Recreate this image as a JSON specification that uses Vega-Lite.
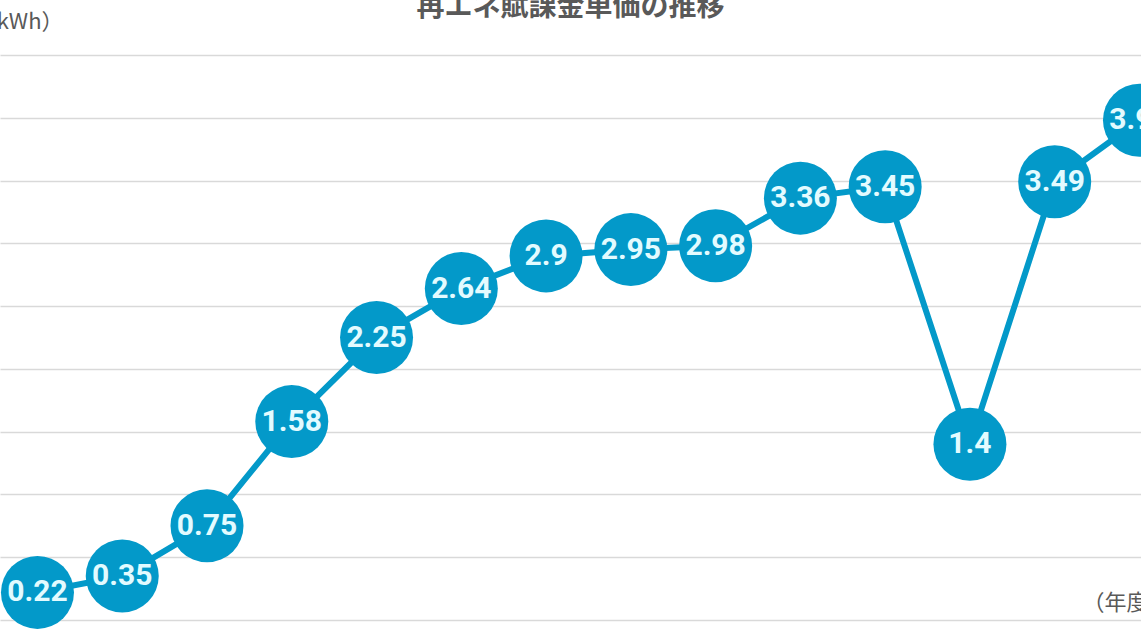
{
  "$schema": "https://vega.github.io/schema/vega-lite/v6.json",
  "autosize": {"type": "none"},
  "width": 1141,
  "height": 565,
  "padding": {"top": 55, "left": 0, "right": 0, "bottom": 14},
  "background": "white",
  "title": {
    "text": "再エネ賦課金単価の推移",
    "font": "Noto Sans CJK JP",
    "fontSize": 28,
    "fontWeight": "bold",
    "color": "#595959",
    "anchor": "middle",
    "offset": -12
  },
  "data": {
    "values": [
      {"year": 2012, "price": 0.22},
      {"year": 2013, "price": 0.35},
      {"year": 2014, "price": 0.75},
      {"year": 2015, "price": 1.58},
      {"year": 2016, "price": 2.25},
      {"year": 2017, "price": 2.64},
      {"year": 2018, "price": 2.9},
      {"year": 2019, "price": 2.95},
      {"year": 2020, "price": 2.98},
      {"year": 2021, "price": 3.36},
      {"year": 2022, "price": 3.45},
      {"year": 2023, "price": 1.4},
      {"year": 2024, "price": 3.49},
      {"year": 2025, "price": 3.98}
    ]
  },
  "encoding": {
    "x": {
      "field": "year",
      "type": "quantitative",
      "scale": {"domain": [2011.558, 2025.018], "nice": false, "zero": false},
      "axis": {
        "title": "（年度）",
        "titleFont": "Noto Sans CJK JP",
        "titleFontSize": 22,
        "titleFontWeight": "normal",
        "titleColor": "#595959",
        "titleAlign": "left",
        "titleBaseline": "middle",
        "titleAnchor": "start",
        "titleX": 1082,
        "titleY": -18,
        "labels": false,
        "ticks": false,
        "domain": false,
        "grid": false
      }
    },
    "y": {
      "field": "price",
      "type": "quantitative",
      "scale": {"domain": [0, 4.5], "nice": false},
      "axis": {
        "title": "（円/kWh）",
        "titleFont": "Noto Sans CJK JP",
        "titleFontSize": 22,
        "titleFontWeight": "normal",
        "titleColor": "#595959",
        "titleAngle": 0,
        "titleAlign": "right",
        "titleBaseline": "middle",
        "titleX": 63,
        "titleY": -34,
        "values": [0, 0.5, 1, 1.5, 2, 2.5, 3, 3.5, 4, 4.5],
        "labels": false,
        "ticks": false,
        "domain": false,
        "grid": true,
        "gridColor": "#d9d9d9",
        "gridWidth": 1.5
      }
    }
  },
  "layer": [
    {"mark": {"type": "line", "color": "#0399c9", "strokeWidth": 6}},
    {"mark": {"type": "circle", "color": "#0399c9", "size": 5329, "opacity": 1}},
    {
      "mark": {
        "type": "text",
        "font": "Roboto",
        "fontSize": 30,
        "fontWeight": "bold",
        "color": "#e3fbff",
        "baseline": "middle",
        "align": "center"
      },
      "encoding": {"text": {"field": "price", "type": "quantitative"}}
    }
  ],
  "config": {"view": {"stroke": null}}
}
